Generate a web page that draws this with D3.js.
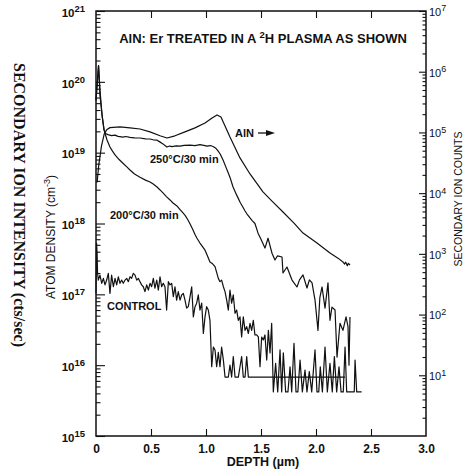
<!DOCTYPE html>
<html>
<head>
<meta charset="utf-8">
<script src="https://cdn.jsdelivr.net/npm/d3@7/dist/d3.min.js"></script>
<style>
  html, body { margin: 0; padding: 0; background: #fff; }
  svg { display: block; }
  text { fill: #111; }
</style>
</head>
<body>
<svg id="chart" width="465" height="470"></svg>
<script>
// ---------------- DATA ----------------
const depthTicks = [0, 0.5, 1.0, 1.5, 2.0, 2.5, 3.0];
const depthTickLabels = ["0", "0.5", "1.0", "1.5", "2.0", "2.5", "3.0"];
const densityDecades = [1e15, 1e16, 1e17, 1e18, 1e19, 1e20, 1e21];
const countDecades = [1e1, 1e2, 1e3, 1e4, 1e5, 1e6, 1e7];

// AlN matrix signal (right axis, secondary ion counts) [depth um, counts]
const alnProfile = [
  [0.01,1.5e4],[0.025,2.9e4],[0.05,6.0e4],[0.075,9.5e4],[0.1,1.12e5],[0.127,1.2e5],
  [0.218,1.23e5],[0.309,1.19e5],[0.4,1.14e5],[0.491,1.02e5],[0.582,8.8e4],[0.645,8.1e4],
  [0.718,8.8e4],[0.809,1.02e5],[0.9,1.19e5],[0.991,1.43e5],[1.055,1.73e5],[1.1,1.94e5],
  [1.136,1.8e5],[1.173,1.28e5],[1.218,8.4e4],[1.309,3.8e4],[1.4,2.07e4],[1.518,1.05e4],
  [1.6,7.4e3],[1.7,4.9e3],[1.8,3.2e3],[1.882,2.2e3],[2.009,1.51e3],[2.127,1.03e3],
  [2.2,8.5e2],[2.245,7.35e2],[2.26,6.8e2],[2.27,7.3e2],[2.285,6.4e2],[2.295,7.0e2],[2.309,6.5e2]
];

// 2H density after 250C / 30 min (left axis, atoms/cm3)
const t250Profile = [
  [0.0,5.5e19],[0.023,1.7e20],[0.036,7.7e19],[0.055,3.4e19],[0.073,2.1e19],[0.09,1.85e19],
  [0.109,1.8e19],[0.14,1.74e19],[0.173,1.77e19],[0.2,1.7e19],[0.245,1.66e19],[0.27,1.69e19],
  [0.309,1.64e19],[0.35,1.62e19],[0.4,1.61e19],[0.45,1.57e19],[0.491,1.56e19],[0.52,1.52e19],
  [0.555,1.5e19],[0.58,1.42e19],[0.609,1.33e19],[0.63,1.25e19],[0.645,1.2e19],[0.67,1.24e19],
  [0.691,1.22e19],[0.73,1.25e19],[0.764,1.24e19],[0.8,1.27e19],[0.855,1.28e19],[0.9,1.26e19],
  [0.945,1.3e19],[0.98,1.27e19],[1.009,1.24e19],[1.04,1.26e19],[1.064,1.22e19],[1.09,1.15e19],
  [1.109,1.06e19],[1.13,9.5e18],[1.155,7.9e18],[1.18,6.3e18],[1.2,5.3e18],[1.22,4.4e18],
  [1.245,3.3e18],[1.27,2.7e18],[1.291,2.3e18],[1.31,2.0e18],[1.336,1.7e18],[1.355,1.5e18],
  [1.373,1.36e18],[1.4,1.2e18],[1.42,1.1e18],[1.445,1.0e18],[1.473,7.3e17],[1.5,6.0e17],
  [1.536,4.5e17],[1.564,6.2e17],[1.6,3.8e17],[1.627,3.05e17],[1.65,3.5e17],[1.691,3.37e17],
  [1.7,2.0e17],[1.736,2.43e17],[1.782,1.59e17],[1.827,1.27e17],[1.85,1.6e17],[1.882,1.88e17],
  [1.918,1.23e17],[1.94,1.6e17],[1.964,1.45e17],[1.991,8.3e16],[2.018,3.1e16],[2.035,9.0e16],
  [2.055,1.27e17],[2.082,6.4e16],[2.109,1.45e17],[2.127,4.3e16],[2.145,6.6e16],[2.173,6.0e16],
  [2.191,1.3e16],[2.218,3.9e16],[2.245,3.1e16],[2.273,4.8e16],[2.291,3.5e16],[2.3,1.0e16],
  [2.309,4.8e16]
];

// 2H density after 200C / 30 min (left axis)
const t200Profile = [
  [0.0,5.5e19],[0.023,1.7e20],[0.036,6.5e19],[0.055,3.4e19],[0.073,2.1e19],[0.1,1.51e19],
  [0.127,1.2e19],[0.15,1.05e19],[0.173,9.3e18],[0.21,8.0e18],[0.245,7.1e18],[0.28,6.3e18],
  [0.309,5.7e18],[0.35,5.0e18],[0.4,4.5e18],[0.45,4.1e18],[0.491,3.85e18],[0.52,3.6e18],
  [0.555,3.27e18],[0.58,3.0e18],[0.609,2.7e18],[0.64,2.4e18],[0.673,2.15e18],[0.7,1.95e18],
  [0.736,1.77e18],[0.76,1.6e18],[0.791,1.41e18],[0.81,1.3e18],[0.836,1.12e18],[0.86,9.5e17],
  [0.882,8.1e17],[0.9,7.0e17],[0.918,6.2e17],[0.945,5.3e17],[0.965,4.8e17],[0.991,4.2e17],
  [1.01,3.6e17],[1.036,2.86e17],[1.06,2.7e17],[1.082,2.46e17],[1.112,1.68e17],[1.127,1.51e17],
  [1.142,1.59e17],[1.158,1.28e17],[1.173,1.09e17],[1.188,8.3e16],[1.203,6.0e16],[1.218,1.15e17],
  [1.233,7.5e16],[1.248,9.8e16],[1.264,5.4e16],[1.279,6.0e16],[1.294,4.3e16],[1.309,4.8e16],
  [1.324,2.5e16],[1.339,4.8e16],[1.355,3.1e16],[1.37,3.5e16],[1.385,2.8e16],[1.4,3.9e16],
  [1.415,3.1e16],[1.43,4.3e16],[1.445,2.67e16],[1.461,2.67e16],[1.476,2.5e16],[1.491,9.5e15],
  [1.506,2.5e16],[1.521,2.27e16],[1.536,2.67e16],[1.552,1.18e16],[1.567,3.1e16],[1.582,1.49e16],
  [1.597,3.9e16],[1.612,4.2e15],[1.633,1.06e16],[1.652,4.2e15],[1.673,1.64e16],[1.688,4.2e15],
  [1.703,1.49e16],[1.724,4.2e15],[1.745,4.2e15],[1.764,9.5e15],[1.779,4.2e15],[1.8,2.04e16],
  [1.818,4.2e15],[1.835,4.2e15],[1.855,1.18e16],[1.876,4.2e15],[1.9,8.5e15],[1.918,4.2e15],
  [1.939,8.1e15],[1.961,4.2e15],[1.991,1.64e16],[2.009,4.2e15],[2.025,4.2e15],[2.039,9.5e15],
  [2.058,4.2e15],[2.082,1.8e16],[2.103,4.2e15],[2.127,1.06e16],[2.148,4.2e15],[2.167,1.32e16],
  [2.188,4.2e15],[2.209,9.5e15],[2.228,4.2e15],[2.248,4.2e15],[2.264,1.8e16],[2.279,4.2e15],
  [2.3,4.2e15],[2.348,4.2e15],[2.355,1.18e16],[2.37,4.2e15],[2.415,4.2e15]
];

// 2H density, untreated control (left axis)
const controlProfile = [
  [0.0,1.03e17],[0.005,5.3e17],[0.01,3.8e17],[0.014,2.0e17],[0.021,1.59e17],[0.036,1.87e17],
  [0.052,1.43e17],[0.067,1.68e17],[0.082,1.36e17],[0.097,1.59e17],[0.112,1.98e17],[0.127,1.03e17],
  [0.142,1.87e17],[0.158,1.28e17],[0.173,1.68e17],[0.188,1.36e17],[0.203,1.77e17],[0.218,1.43e17],
  [0.233,1.59e17],[0.248,1.43e17],[0.264,1.59e17],[0.279,1.68e17],[0.294,1.51e17],[0.309,1.77e17],
  [0.324,1.68e17],[0.339,1.98e17],[0.355,1.87e17],[0.37,1.59e17],[0.385,1.68e17],[0.4,1.51e17],
  [0.415,1.36e17],[0.43,1.28e17],[0.445,1.09e17],[0.461,1.36e17],[0.476,1.15e17],[0.491,1.43e17],
  [0.506,1.28e17],[0.521,1.68e17],[0.536,1.22e17],[0.552,1.59e17],[0.567,1.15e17],[0.582,1.77e17],
  [0.597,1.28e17],[0.612,1.43e17],[0.627,1.28e17],[0.642,6.0e16],[0.658,1.51e17],[0.673,1.36e17],
  [0.688,1.43e17],[0.703,9.3e16],[0.718,1.28e17],[0.733,8.3e16],[0.748,1.09e17],[0.764,8.3e16],
  [0.779,9.8e16],[0.794,1.03e17],[0.809,8.3e16],[0.824,6.4e16],[0.839,6.7e16],[0.855,9.3e16],
  [0.87,1.28e17],[0.885,4.8e16],[0.9,6.7e16],[0.915,7.5e16],[0.93,9.8e16],[0.945,6.0e16],
  [0.961,7.5e16],[0.976,2.8e16],[0.991,4.8e16],[1.006,6.7e16],[1.021,6.0e16],[1.036,4.3e16],
  [1.052,9.5e15],[1.067,1.8e16],[1.082,1.64e16],[1.097,9.5e15],[1.112,1.52e16],[1.127,9.5e15],
  [1.142,1.8e16],[1.158,1.18e16],[1.173,6.8e15],[1.203,6.8e15],[1.218,1.0e16],[1.233,6.8e15],
  [1.248,1.32e16],[1.264,6.8e15],[1.294,6.8e15],[1.309,9.5e15],[1.324,1.32e16],[1.339,6.8e15],
  [1.355,6.8e15],[1.37,1.32e16],[1.385,6.8e15],[2.264,6.8e15]
];

// ---------------- DRAW ----------------
const svg = d3.select("#chart");
const L = 96, R = 426, T = 11, B = 436;
const x = d3.scaleLinear().domain([0, 3]).range([L, R]);
const yL = d3.scaleLog().domain([1e15, 1e21]).range([B, T]);
const yR = d3.scaleLog().domain([1e0, 1e7]).range([B, T]);

const minorOf = (lo, hi) => {
  const out = [];
  for (let e = lo; e < hi; e++) for (let k = 2; k <= 9; k++) out.push(k * Math.pow(10, e));
  return out;
};

function styleAxis(g) {
  g.select(".domain").remove();
  g.selectAll(".tick line").attr("stroke", "#111").attr("stroke-width", 1.1);
}

// left minor / major
svg.append("g").attr("transform", `translate(${L},0)`)
  .call(d3.axisLeft(yL).tickValues(minorOf(15, 21)).tickSize(-4.5).tickFormat(""))
  .call(styleAxis);
const leftMajor = svg.append("g").attr("transform", `translate(${L},0)`)
  .call(d3.axisLeft(yL).tickValues(densityDecades).tickSize(-9).tickPadding(11))
  .call(styleAxis);
leftMajor.selectAll(".tick text").each(function(d) {
  const t = d3.select(this);
  t.text(null).attr("font-family", "Liberation Sans, Arial, sans-serif")
    .attr("font-size", 11.5).attr("font-weight", "bold").attr("dy", "0.45em");
  t.append("tspan").text("10");
  t.append("tspan").attr("dy", "-0.5em").attr("font-size", 9.5).text(Math.round(Math.log10(d)));
});

// right minor / major
svg.append("g").attr("transform", `translate(${R},0)`)
  .call(d3.axisRight(yR).tickValues(minorOf(0, 7)).tickSize(-3.5).tickFormat(""))
  .call(styleAxis);
const rightMajor = svg.append("g").attr("transform", `translate(${R},0)`)
  .call(d3.axisRight(yR).tickValues(countDecades).tickSize(-7).tickPadding(3))
  .call(styleAxis);
rightMajor.selectAll(".tick text").each(function(d) {
  const t = d3.select(this);
  t.text(null).attr("font-family", "Liberation Sans, Arial, sans-serif")
    .attr("font-size", 11).attr("dy", "0.4em");
  t.append("tspan").text("10");
  t.append("tspan").attr("dy", "-0.5em").attr("font-size", 9).text(Math.round(Math.log10(d)));
});

// top / bottom ticks
svg.append("g").attr("transform", `translate(0,${T})`)
  .call(d3.axisTop(x).tickValues(depthTicks.slice(1, -1)).tickSize(-7).tickFormat(""))
  .call(styleAxis);
const bottom = svg.append("g").attr("transform", `translate(0,${B})`)
  .call(d3.axisBottom(x).tickValues(depthTicks.slice(1, -1)).tickSize(-7).tickFormat(""))
  .call(styleAxis);
const bottomLabels = svg.append("g").attr("transform", `translate(0,${B})`)
  .call(d3.axisBottom(x).tickValues(depthTicks).tickSize(0).tickPadding(8)
    .tickFormat((d, i) => depthTickLabels[i]));
bottomLabels.select(".domain").remove();
bottomLabels.selectAll(".tick text")
  .attr("font-family", "Liberation Sans, Arial, sans-serif")
  .attr("font-size", 12).attr("font-weight", "bold");

// frame
svg.append("rect").attr("x", L).attr("y", T).attr("width", R - L).attr("height", B - T)
  .attr("fill", "none").attr("stroke", "#111").attr("stroke-width", 1.5);

// curves
const lineL = d3.line().x(d => x(d[0])).y(d => yL(d[1]));
const lineR = d3.line().x(d => x(d[0])).y(d => yR(d[1]));
const curveStyle = p => p.attr("fill", "none").attr("stroke", "#111")
  .attr("stroke-width", 1.2).attr("stroke-linejoin", "round");
svg.append("path").datum(controlProfile).attr("d", lineL).call(curveStyle);
svg.append("path").datum(t200Profile).attr("d", lineL).call(curveStyle);
svg.append("path").datum(t250Profile).attr("d", lineL).call(curveStyle);
svg.append("path").datum(alnProfile).attr("d", lineR).call(curveStyle);

// labels
const sans = "Liberation Sans, Arial, sans-serif";
const title = svg.append("text").attr("x", 263).attr("y", 43).attr("text-anchor", "middle")
  .attr("font-family", sans).attr("font-size", 13).attr("font-weight", "bold");
title.append("tspan").text("AlN: Er TREATED IN A ");
title.append("tspan").attr("dy", -5).attr("font-size", 9.5).text("2");
title.append("tspan").attr("dy", 5).text("H PLASMA AS SHOWN");

const curveLabel = (tx, ty, s) => svg.append("text").attr("x", tx).attr("y", ty)
  .attr("font-family", sans).attr("font-size", 11).attr("font-weight", "bold").text(s);
curveLabel(235, 137, "AlN");
curveLabel(150, 163, "250°C/30 min");
curveLabel(110, 219, "200°C/30 min");
curveLabel(107, 310, "CONTROL");

// arrow after AlN
svg.append("line").attr("x1", 258).attr("y1", 133).attr("x2", 268).attr("y2", 133)
  .attr("stroke", "#111").attr("stroke-width", 1.3);
svg.append("path").attr("d", "M266,130 L275,133 L266,136 Z").attr("fill", "#111");

// axis titles
svg.append("text").attr("x", 263).attr("y", 466).attr("text-anchor", "middle")
  .attr("font-family", sans).attr("font-size", 12.5).attr("font-weight", "bold")
  .text("DEPTH (\u00b5m)");

const yt = svg.append("text").attr("transform", "translate(55,237) rotate(-90)")
  .attr("text-anchor", "middle").attr("font-family", sans).attr("font-size", 12);
yt.append("tspan").text("ATOM DENSITY (cm");
yt.append("tspan").attr("dy", -5).attr("font-size", 9).text("-3");
yt.append("tspan").attr("dy", 5).text(")");

svg.append("text").attr("transform", "translate(462,199) rotate(-90)")
  .attr("text-anchor", "middle").attr("font-family", sans).attr("font-size", 10.5)
  .text("SECONDARY ION COUNTS");

svg.append("text").attr("transform", "translate(14,205) rotate(90)")
  .attr("text-anchor", "middle").attr("font-family", "Liberation Serif, Times New Roman, serif")
  .attr("font-size", 16).attr("font-weight", "bold")
  .text("SECONDARY ION INTENSITY (cts/sec)");
</script>
</body>
</html>
